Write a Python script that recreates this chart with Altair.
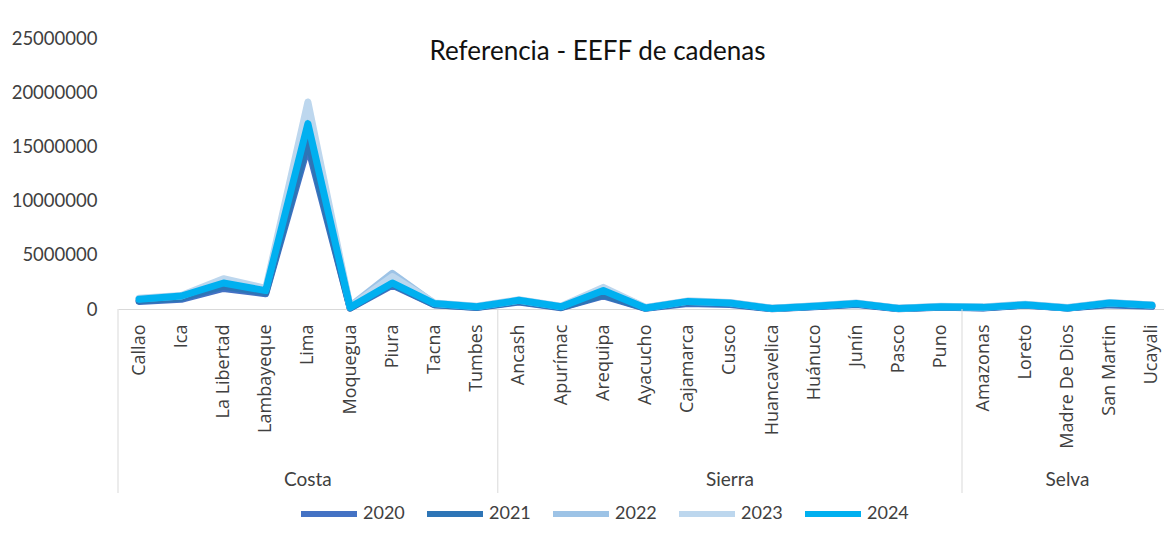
import altair as alt
import pandas as pd

regions = ["Callao", "Ica", "La Libertad", "Lambayeque", "Lima", "Moquegua", "Piura", "Tacna", "Tumbes",
           "Ancash", "Apurímac", "Arequipa", "Ayacucho", "Cajamarca", "Cusco", "Huancavelica", "Huánuco",
           "Junín", "Pasco", "Puno",
           "Amazonas", "Loreto", "Madre De Dios", "San Martin", "Ucayali"]
groups = ["Costa", "Sierra", "Selva"]
group_sizes = [9, 11, 5]

years = ["2020", "2021", "2022", "2023", "2024"]
colors = ["#4472C4", "#2E75B6", "#9DC3E6", "#BDD7EE", "#00B0F0"]

v2020 = [700000, 900000, 1900000, 1400000, 15000000, 80000, 2200000, 380000, 130000,
         650000, 120000, 1200000, 60000, 500000, 420000, 30000, 200000, 420000, 30000, 160000,
         100000, 350000, 80000, 380000, 250000]
v2021 = [750000, 1000000, 2100000, 1500000, 15500000, 100000, 2300000, 400000, 150000,
         700000, 150000, 1300000, 80000, 600000, 480000, 40000, 220000, 450000, 40000, 180000,
         120000, 380000, 90000, 450000, 300000]
v2022 = [950000, 1200000, 2600000, 1800000, 17800000, 250000, 3300000, 500000, 220000,
         800000, 220000, 1900000, 120000, 700000, 580000, 60000, 280000, 520000, 60000, 220000,
         160000, 420000, 110000, 580000, 360000]
v2023 = [1000000, 1250000, 2800000, 1900000, 19100000, 200000, 3000000, 550000, 250000,
         850000, 250000, 2000000, 150000, 750000, 600000, 80000, 300000, 550000, 80000, 250000,
         180000, 450000, 130000, 600000, 380000]
v2024 = [900000, 1200000, 2400000, 1700000, 17100000, 150000, 2400000, 500000, 200000,
         800000, 200000, 1700000, 100000, 700000, 550000, 50000, 250000, 500000, 50000, 200000,
         150000, 400000, 100000, 550000, 350000]
series = [v2020, v2021, v2022, v2023, v2024]

title_text = "Referencia - EEFF de cadenas"
y_ticks = [0, 5000000, 10000000, 15000000, 20000000, 25000000]

# ---- tables built from the lists ----
rows = []
for yi, (yr, vals) in enumerate(zip(years, series)):
    for i, (r, v) in enumerate(zip(regions, vals)):
        rows.append({"pos": i + 0.5, "region": r, "year": yr, "value": v, "ord": yi})
df = pd.DataFrame(rows)

bounds = []
centers = []
start = 0
for g, n in zip(groups, group_sizes):
    bounds.append(start)
    centers.append({"group": g, "pos": start + n / 2})
    start += n
df_bounds = pd.DataFrame({"pos": bounds})
df_groups = pd.DataFrame(centers)

W = 1046
H = 271
STEP = 42.2
xdom = [0, W / STEP]

label_expr = "[" + ",".join("'" + r + "'" for r in regions) + "][floor(datum.value)]"

xscale = alt.Scale(domain=xdom, nice=False, zero=False)
xaxis = alt.Axis(values=[i + 0.5 for i in range(len(regions))], labelExpr=label_expr,
                 labelAngle=-90, labelAlign="right", labelBaseline="middle",
                 labelPadding=15, labelFont="Open Sans", labelFontSize=18,
                 labelColor="#404040", labelOverlap=False, labelFlush=False,
                 ticks=False, grid=False, domainColor="#d9d9d9", title=None)

lines = alt.Chart(df).mark_line(strokeWidth=7, strokeCap="round", strokeJoin="round").encode(
    x=alt.X("pos:Q", scale=xscale, axis=xaxis),
    y=alt.Y("value:Q", scale=alt.Scale(domain=[0, 25000000], nice=False),
            axis=alt.Axis(values=y_ticks, format="d", labelFont="Lato", labelFontSize=18.5,
                          labelColor="#404040", labelPadding=21, ticks=False, domain=False,
                          grid=False, title=None)),
    color=alt.Color("year:N", scale=alt.Scale(domain=years, range=colors),
                    legend=alt.Legend(orient="none", legendX=180, legendY=445,
                                      direction="horizontal", columns=5, title=None,
                                      symbolType="stroke", symbolSize=3136,
                                      symbolStrokeWidth=6, labelFont="Lato", labelFontSize=18,
                                      labelColor="#404040", columnPadding=10, labelOffset=3)),
    order=alt.Order("ord:Q"),
    detail="year:N",
)

seps = alt.Chart(df_bounds).mark_rule(color="#d9d9d9", strokeWidth=1).encode(
    x=alt.X("pos:Q", scale=xscale, axis=xaxis),
    y=alt.value(H),
    y2=alt.value(455),
)

grp = alt.Chart(df_groups).mark_text(font="Lato", fontSize=19, color="#404040",
                                      baseline="alphabetic").encode(
    x=alt.X("pos:Q", scale=xscale, axis=xaxis),
    y=alt.value(448),
    text="group:N",
)

ttl = alt.Chart(pd.DataFrame({"t": [title_text]})).mark_text(
    font="Lato", fontSize=26, color="#111111", baseline="alphabetic").encode(
    x=alt.value(479.5), y=alt.value(22), text="t:N")

chart = alt.layer(lines, seps, grp, ttl).properties(
    width=W, height=H,
    background="white",
    autosize=alt.AutoSizeParams(type="none"),
    padding={"left": 110, "top": 30, "right": 0, "bottom": 225},
).configure_view(stroke=None)

chart.save("out.html", embed_options={"renderer": "svg", "actions": False})
